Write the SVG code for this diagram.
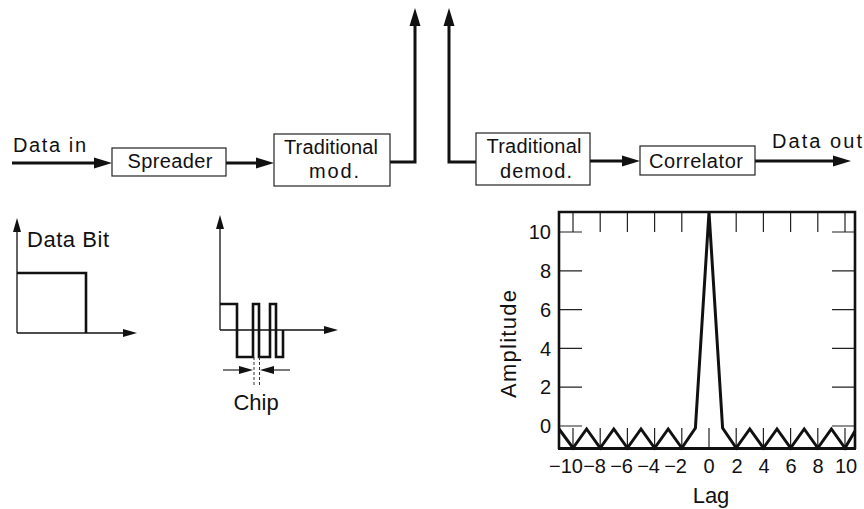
<svg xmlns="http://www.w3.org/2000/svg" width="864" height="509" viewBox="0 0 864 509">
<style>
  text { font-family: "Liberation Sans", Arial, Helvetica, sans-serif; fill: #111; }
  .lbl { font-size: 20px; }
  .big { font-size: 22px; }
  .tick { font-size: 20px; }
  .box { fill: #fff; stroke: #222; stroke-width: 1.2; }
  .conn { fill: none; stroke: #111; stroke-width: 3; }
  .axis { fill: none; stroke: #111; stroke-width: 1.3; }
  .wave { fill: none; stroke: #111; stroke-width: 2.6; stroke-linejoin: miter; }
  .thin { fill: none; stroke: #222; stroke-width: 1.2; }
  .frame { fill: none; stroke: #111; stroke-width: 2.6; }
  .dash { fill: none; stroke: #333; stroke-width: 1; stroke-dasharray: 3 2; }
  .curve { fill: none; stroke: #111; stroke-width: 3; stroke-linejoin: miter; }
</style>
<defs>
  <marker id="arr" viewBox="0 0 18 12" refX="12" refY="6" markerWidth="18" markerHeight="12" orient="auto" markerUnits="userSpaceOnUse">
    <path d="M0,0.5 L18,6 L0,11.5 Z" fill="#111"/>
  </marker>
  <marker id="arrS" viewBox="0 0 14 9" refX="10" refY="4.5" markerWidth="14" markerHeight="9" orient="auto" markerUnits="userSpaceOnUse">
    <path d="M0,0.5 L14,4.5 L0,8.5 Z" fill="#111"/>
  </marker>
</defs>

<g id="connectors">
  <path class="conn" d="M12,163 H106" marker-end="url(#arr)"/>
  <text class="lbl" x="13" y="152" textLength="73" lengthAdjust="spacing">Data in</text>
  <path class="conn" d="M226,163 H268" marker-end="url(#arr)"/>
  <path class="conn" d="M390,162 H415 V14" marker-end="url(#arr)"/>
  <path class="conn" d="M476,162 H449 V14" marker-end="url(#arr)"/>
  <path class="conn" d="M590,161 H634" marker-end="url(#arr)"/>
  <path class="conn" d="M755,161 H845" marker-end="url(#arr)"/>
  <text class="lbl" x="772" y="148" textLength="90" lengthAdjust="spacing">Data out</text>
</g>

<g id="spreader">
  <rect class="box" x="112" y="148" width="114" height="28"/>
  <text class="lbl" x="170" y="168" text-anchor="middle" textLength="85" lengthAdjust="spacing">Spreader</text>
</g>

<g id="trad-mod">
  <rect class="box" x="274" y="134" width="116" height="52"/>
  <text class="lbl" x="331" y="154" text-anchor="middle" textLength="94" lengthAdjust="spacing">Traditional</text>
  <text class="lbl" x="334" y="178" text-anchor="middle" textLength="50" lengthAdjust="spacing">mod.</text>
</g>

<g id="trad-demod">
  <rect class="box" x="476" y="133" width="114" height="52"/>
  <text class="lbl" x="534" y="153" text-anchor="middle" textLength="95" lengthAdjust="spacing">Traditional</text>
  <text class="lbl" x="536" y="178" text-anchor="middle" textLength="72" lengthAdjust="spacing">demod.</text>
</g>

<g id="correlator">
  <rect class="box" x="640" y="146" width="115" height="29"/>
  <text class="lbl" x="696" y="168" text-anchor="middle" textLength="94" lengthAdjust="spacing">Correlator</text>
</g>

<g id="data-bit">
  <path class="axis" d="M17,333 V222" marker-end="url(#arrS)"/>
  <path class="axis" d="M17,333 H133" marker-end="url(#arrS)"/>
  <path class="wave" d="M17,273 H86 V333"/>
  <text class="big" x="27" y="247" textLength="82" lengthAdjust="spacing">Data Bit</text>
</g>

<g id="chip">
  <path class="axis" d="M220,330 V219" marker-end="url(#arrS)"/>
  <path class="axis" d="M220,330 H334" marker-end="url(#arrS)"/>
  <path class="wave" d="M220,304 H237 V357 H253 V304 H259 V357 H270 V304 H276 V357 H283 V330"/>
  <path class="dash" d="M254,357 V386 M259.5,357 V386"/>
  <path class="thin" d="M223,370 H249" marker-end="url(#arrS)"/>
  <path class="thin" d="M290,370 H264" marker-end="url(#arrS)"/>
  <text class="big" x="256" y="410" text-anchor="middle">Chip</text>
</g>

<g id="correlation-plot">
  <path class="thin" d="M573,212 V232 M600.2,212 V232 M627.4,212 V232 M654.6,212 V232 M681.8,212 V232 M709,212 V232 M736.2,212 V232 M763.4,212 V232 M790.6,212 V232 M817.8,212 V232 M845,212 V232"/>
  <path class="thin" d="M573,449 V428 M600.2,449 V428 M627.4,449 V428 M654.6,449 V428 M681.8,449 V428 M709,449 V428 M736.2,449 V428 M763.4,449 V428 M790.6,449 V428 M817.8,449 V428 M845,449 V428"/>
  <path class="thin" d="M559,232 H582 M559,270.8 H582 M559,309.6 H582 M559,348.4 H582 M559,387.2 H582 M559,426 H582"/>
  <path class="thin" d="M832,232 H855 M832,270.8 H855 M832,309.6 H855 M832,348.4 H855 M832,387.2 H855 M832,426 H855"/>
  <path class="frame" d="M559,449 V212 H855 V449"/>
  <path class="frame" d="M558,448.5 H856" style="stroke-width:3"/>
  <path class="curve" d="M559,429 L573,448 L586.6,429 L600.2,448 L613.8,429 L627.4,448 L641,429 L654.6,448 L668.2,429 L681.8,448 L695.4,428 L709,212 L722.6,428 L736.2,448 L749.8,429 L763.4,448 L777,429 L790.6,448 L804.2,429 L817.8,448 L831.4,429 L845,448 L855,431"/>
  <g class="tick" text-anchor="end">
    <text x="551" y="239">10</text>
    <text x="551" y="278">8</text>
    <text x="551" y="317">6</text>
    <text x="551" y="356">4</text>
    <text x="551" y="394">2</text>
    <text x="551" y="433">0</text>
  </g>
  <g class="tick" text-anchor="end">
    <text x="583" y="473">−10</text>
    <text x="606" y="473">−8</text>
    <text x="633" y="473">−6</text>
    <text x="660" y="473">−4</text>
    <text x="687" y="473">−2</text>
  </g>
  <g class="tick" text-anchor="middle">
    <text x="709" y="473">0</text>
    <text x="737" y="473">2</text>
    <text x="764" y="473">4</text>
    <text x="791" y="473">6</text>
    <text x="818" y="473">8</text>
    <text x="846" y="473">10</text>
  </g>
  <text class="big" x="711" y="503" text-anchor="middle">Lag</text>
  <text class="big" transform="translate(516,344) rotate(-90)" x="0" y="0" text-anchor="middle" textLength="108" lengthAdjust="spacing">Amplitude</text>
</g>
</svg>
